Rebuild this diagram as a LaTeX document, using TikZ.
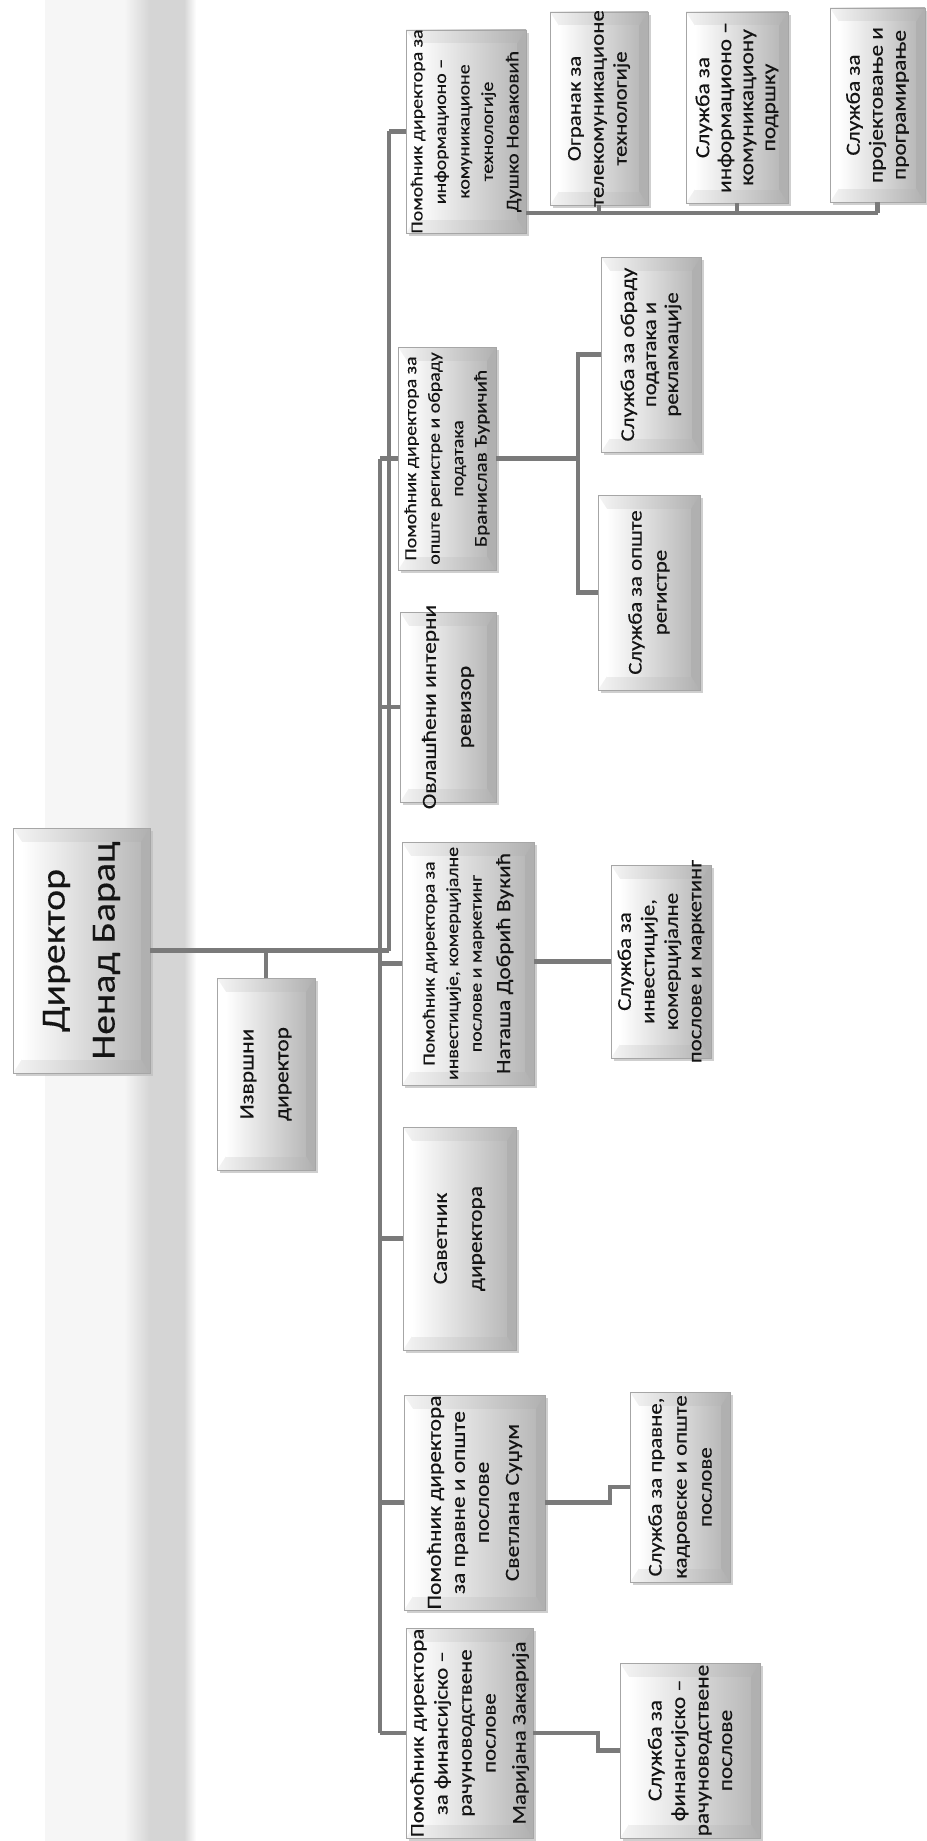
\documentclass[tikz,border=0pt]{standalone}
\usepackage{fontspec}
\setmainfont{Carlito}[FakeStretch=1.17, FakeBold=0.3]
\usetikzlibrary{calc}
\definecolor{connc}{RGB}{122,122,122}
\definecolor{txtc}{RGB}{20,20,20}
\newcommand\bevbox[5]{%
  \fill[gray!50, opacity=.75] ({#2+3},{#3+3}) rectangle ({#4+3},{#5+3});
  \fill[left color=gray!8, right color=gray!62] (#2,#3) rectangle (#4,#5);
  \fill[left color=white, right color=gray!55] ({#2+9},{#3+14}) rectangle ({#4-9},{#5-14});
  \fill[white] (#2,#3) -- ({#2+9},{#3+14}) -- ({#2+9},{#5-14}) -- (#2,#5) -- cycle;
  \fill[gray!62] (#4,#3) -- ({#4-9},{#3+14}) -- ({#4-9},{#5-14}) -- (#4,#5) -- cycle;
  \node[boxframe, minimum width={#4-#2}, minimum height={#5-#3}] (#1) at ({(#2+#4)/2},{(#3+#5)/2}) {};
}
\begin{document}
\begin{tikzpicture}[x=1pt, y=-1pt,
  boxframe/.style={draw=gray!70, line width=.8pt, inner sep=0pt, outer sep=0pt},
  txt/.style={rotate=90, align=center, inner sep=0pt, text=txtc},
  f20/.style={font=\fontsize{20}{23}\selectfont},
  f18/.style={font=\fontsize{17}{23.5}\selectfont},
  conn/.style={draw=connc, line width=4.5pt, line cap=butt, line join=miter}]
\fill[white] (0,0) rectangle (926,1841);
\useasboundingbox (0,0) rectangle (926,1841);
% background strip
\fill[gray!7] (45,0) rectangle (130,1841);
\shade[left color=gray!8, right color=gray!33] (125,0) rectangle (150,1841);
\fill[gray!33] (150,0) rectangle (184,1841);
\shade[left color=gray!33, right color=white] (184,0) rectangle (196,1841);

% coordinates for trunks and buses
\coordinate (tA) at (389,0);
\coordinate (tB) at (380,0);
\coordinate (busIT) at (0,213);
\coordinate (bb) at (578,0);
\coordinate (px) at (610,0);
\coordinate (fx) at (598,0);

% boxes
\bevbox{dir}{13}{828}{150}{1073}
\bevbox{izv}{217}{978}{315}{1170}
\bevbox{it}{406}{30}{526}{233}
\bevbox{ogr}{550}{12}{648}{205}
\bevbox{ik}{686}{12}{788}{203}
\bevbox{proj}{830}{8}{925}{202}
\bevbox{bran}{398}{347}{496}{570}
\bevbox{obr}{601}{257}{701}{452}
\bevbox{reg}{598}{495}{700}{690}
\bevbox{ovl}{400}{612}{496}{802}
\bevbox{nat}{402}{842}{534}{1085}
\bevbox{inv}{611}{865}{711}{1058}
\bevbox{sav}{403}{1127}{516}{1350}
\bevbox{pr}{404}{1395}{545}{1610}
\bevbox{spr}{630}{1392}{730}{1582}
\bevbox{fin}{406}{1628}{533}{1838}
\bevbox{sfi}{620}{1663}{760}{1838}

% texts
\node[txt, font=\fontsize{34}{50}\selectfont] (dir-t) at (dir) {Директор\\Ненад Барац};
\node[txt, f20, font=\fontsize{20}{35}\selectfont] (izv-t) at (izv) {Извршни\\директор};
\node[txt, f18] (it-t) at (it) {Помоћник директора за\\информационо –\\комуникационе\\технологије\\[2pt]{\fontsize{18}{23}\selectfont Душко Новаковић}};
\node[txt, f20, font=\fontsize{19.5}{23}\selectfont] (ogr-t) at (ogr) {Огранак за\\телекомуникационе\\технологије};
\node[txt, f20, font=\fontsize{20}{22}\selectfont] (ik-t) at (ik) {Служба за\\информационо –\\комуникациону\\подршку};
\node[txt, f20] (proj-t) at (proj) {Служба за\\пројектовање и\\програмирање};
\node[txt, f18] (bran-t) at (bran) {Помоћник директора за\\опште регистре и обраду\\података\\{\fontsize{18}{23}\selectfont Бранислав Ђуричић}};
\node[txt, f20, font=\fontsize{19.5}{22}\selectfont] (obr-t) at (obr) {Служба за обраду\\података и\\рекламације};
\node[txt, f20, font=\fontsize{19.5}{25}\selectfont] (reg-t) at (reg) {Служба за опште\\регистре};
\node[txt, f20, font=\fontsize{20}{35}\selectfont] (ovl-t) at (ovl) {Овлашћени интерни\\ревизор};
\node[txt, f18] (nat-t) at (nat) {Помоћник директора за\\инвестиције, комерцијалне\\послове и маркетинг\\[5pt]{\fontsize{20}{23}\selectfont Наташа Добрић Вукић}};
\node[txt, f20, font=\fontsize{19.5}{23.5}\selectfont] (inv-t) at (inv) {Служба за\\инвестиције,\\комерцијалне\\послове и маркетинг};
\node[txt, f20, font=\fontsize{20}{35}\selectfont] (sav-t) at (sav) {Саветник\\директора};
\node[txt, f20, font=\fontsize{20}{24}\selectfont] (pr-t) at (pr) {Помоћник директора\\за правне и опште\\послове\\[6pt]Светлана Суџум};
\node[txt, f20, font=\fontsize{19.5}{25}\selectfont] (spr-t) at (spr) {Служба за правне,\\кадровске и опште\\послове};
\node[txt, f20, font=\fontsize{19.5}{24}\selectfont] (fin-t) at (fin) {Помоћник директора\\за финансијско –\\рачуноводствене\\послове\\[6pt]Маријана Закарија};
\node[txt, f20, font=\fontsize{20}{23.5}\selectfont] (sfi-t) at (sfi) {Служба за\\финансијско –\\рачуноводствене\\послове};

% connectors: director level
\draw[conn] (dir.east) -- (tA |- dir.east);
\draw[conn] (izv.north) -- (izv.north |- dir.east);
% trunks
\draw[conn] (tA |- it.west) -- (tA |- dir.east);
\draw[conn] (tB |- bran.west) -- (tB |- fin.west);
% branches
\draw[conn] (tA |- it.west) -- (it.west);
\draw[conn] (tB |- bran.west) -- (bran.west);
\draw[conn] (tB |- ovl.west) -- (ovl.west);
\draw[conn] (tB |- nat.west) -- (nat.west);
\draw[conn] (tB |- sav.west) -- (sav.west);
\draw[conn] (tB |- pr.west) -- (pr.west);
\draw[conn] (tB |- fin.west) -- (fin.west);
% IT bus
\draw[conn] (it.east |- busIT) -- (proj.south |- busIT);
\draw[conn] (ogr.south |- busIT) -- (ogr.south);
\draw[conn] (ik.south |- busIT) -- (ik.south);
\draw[conn] (proj.south |- busIT) -- (proj.south);
% Branislav
\draw[conn] (bran.east) -- (bb |- bran.east);
\draw[conn] (obr.west) -- (bb |- obr.west) -- (bb |- reg.west) -- (reg.west);
% Natasa
\draw[conn] (nat.east |- inv.west) -- (inv.west);
% pravne
\draw[conn] (pr.east) -- (px |- pr.east) -- (px |- spr.west) -- (spr.west);
% finansije
\draw[conn] (fin.east) -- (fx |- fin.east) -- (fx |- sfi.west) -- (sfi.west);
\end{tikzpicture}
\end{document}
